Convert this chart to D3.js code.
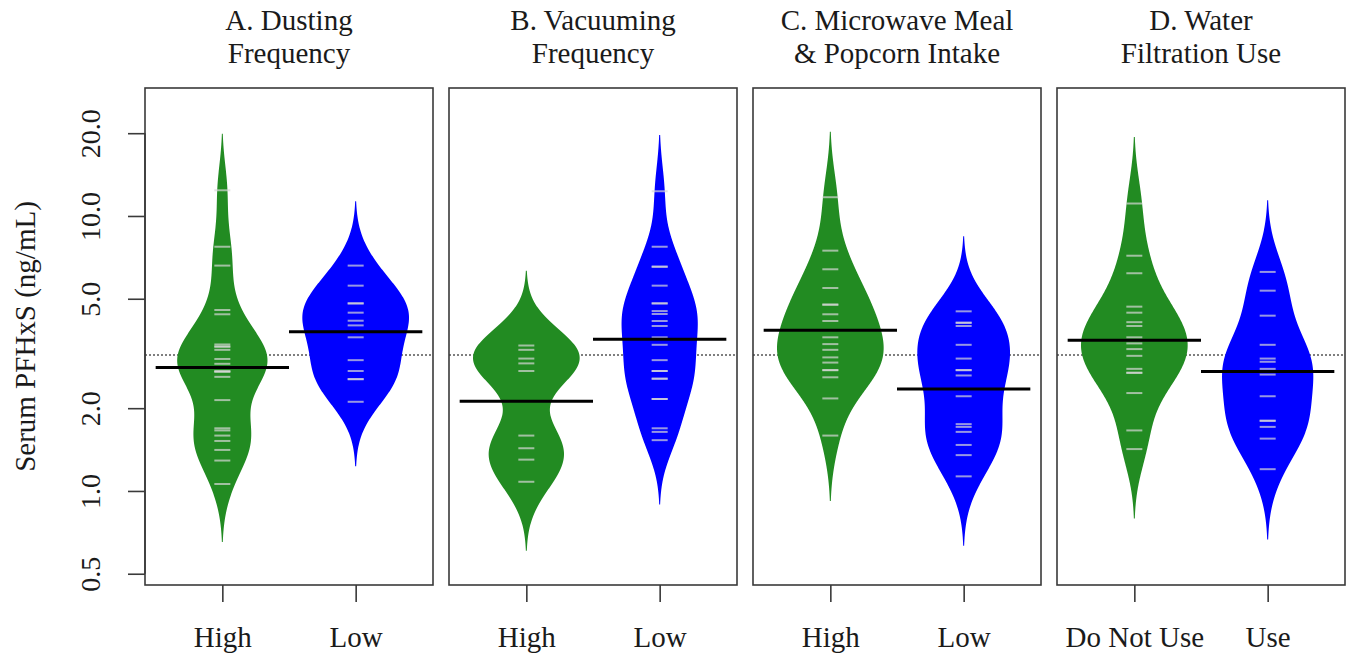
<!DOCTYPE html>
<html>
<head>
<meta charset="utf-8">
<script src="https://cdn.jsdelivr.net/npm/d3@7"></script>
<style>
  body { margin: 0; background: #fff; }
  text { font-family: "Liberation Serif", "Times New Roman", serif; fill: #1a1a1a; }
</style>
</head>
<body>
<script>
// ---- data (serum PFHxS, ng/mL) ----
const panelTitles = [
  ["A. Dusting", "Frequency"],
  ["B. Vacuuming", "Frequency"],
  ["C. Microwave Meal", "& Popcorn Intake"],
  ["D. Water", "Filtration Use"]
];
const groupLabels = [["High", "Low"], ["High", "Low"], ["High", "Low"], ["Do Not Use", "Use"]];
const yTicks = [0.5, 1, 2, 5, 10, 20];
const yTickLabels = ["0.5", "1.0", "2.0", "5.0", "10.0", "20.0"];

// one entry per subject; repeated values = brighter (overlapping) bean lines
const dustHigh = [12.4, 7.73, 6.60, 4.55, 4.39, 3.41, 3.35, 3.35, 3.26, 3.02, 2.90, 2.72, 2.72, 2.72, 2.60, 2.14, 1.69, 1.66, 1.59, 1.52, 1.41, 1.29, 1.06];
const dustLow  = [6.60, 5.58, 4.81, 4.81, 4.45, 4.16, 4.00, 3.62, 2.99, 2.73, 2.55, 2.55, 2.11];
const vacHigh  = [3.38, 3.26, 3.03, 2.91, 2.73, 1.59, 1.43, 1.30, 1.08];
const vacLow   = [12.3, 7.73, 6.54, 6.54, 5.58, 4.81, 4.81, 4.51, 4.40, 4.15, 3.98, 3.62, 3.40, 2.99, 2.73, 2.73, 2.56, 2.56, 2.16, 2.16, 1.69, 1.64, 1.53];
const micHigh  = [11.7, 7.48, 6.40, 5.47, 4.76, 4.76, 4.39, 4.15, 3.62, 3.42, 3.26, 3.06, 2.93, 2.75, 2.75, 2.59, 2.17, 1.59];
const micLow   = [4.50, 4.09, 4.09, 3.98, 3.40, 3.03, 2.75, 2.75, 2.63, 2.21, 1.75, 1.71, 1.64, 1.47, 1.35, 1.13];
const filtNo   = [11.1, 7.17, 6.19, 4.68, 4.45, 4.11, 3.98, 3.62, 3.44, 3.28, 3.10, 2.78, 2.69, 2.69, 2.27, 1.66, 1.42];
const filtUse  = [6.26, 5.35, 4.34, 3.40, 3.03, 2.95, 2.78, 2.65, 2.21, 1.80, 1.80, 1.71, 1.55, 1.20];

const beanData = [[dustHigh, dustLow], [vacHigh, vacLow], [micHigh, micLow], [filtNo, filtUse]];
const beanAverages = [[2.81, 3.79], [2.12, 3.56], [3.84, 2.35], [3.53, 2.72]];
const overallAverage = 3.12;
// kernel bandwidth per panel (shared by both beans), log10 units
const bandwidths = [0.096, 0.098, 0.106, 0.108];
const beanColors = ["#228B22", "#0000FF"];

// ---- layout ----
const W = 1352, H = 658;
const plotTop = 88, plotBottom = 585;
const panelW = 288, panelStep = 304, firstLeft = 145;

const svg = d3.select("body").append("svg").attr("width", W).attr("height", H);

const y = d3.scaleLog().domain([0.455, 29.2]).range([plotBottom, plotTop]);

function kde(vals, bw) {
  const logs = vals.map(v => Math.log10(v));
  const lo = d3.min(logs) - 3 * bw, hi = d3.max(logs) + 3 * bw;
  const n = logs.length;
  return d3.range(0, 301).map(i => {
    const t = lo + (hi - lo) * i / 300;
    let s = 0;
    logs.forEach(l => { const z = (t - l) / bw; s += Math.exp(-0.5 * z * z); });
    return {t: t, d: s / (n * bw * Math.sqrt(2 * Math.PI))};
  });
}

beanData.forEach((pair, p) => {
  const left = firstLeft + p * panelStep;
  const x = d3.scaleLinear().domain([0.42, 2.58]).range([left, left + panelW]);
  const g = svg.append("g");

  // overall average dotted line
  g.append("line")
    .attr("x1", left).attr("x2", left + panelW)
    .attr("y1", y(overallAverage)).attr("y2", y(overallAverage))
    .attr("stroke", "#555").attr("stroke-width", 1.5).attr("stroke-dasharray", "2,2");

  const dens = pair.map(vals => kde(vals, bandwidths[p]));
  const maxD = d3.max(dens, ds => d3.max(ds, d => d.d));
  const wScale = d3.scaleLinear().domain([0, maxD]).range([0, 0.4]);

  pair.forEach((vals, k) => {
    const at = k + 1;
    // drop the sub-pixel ends of the tails
    const pts = dens[k].filter(d => x(1 + wScale(d.d)) - x(1) >= 0.45);
    const area = d3.area()
      .y(d => y(Math.pow(10, d.t)))
      .x0(d => x(at - wScale(d.d)))
      .x1(d => x(at + wScale(d.d)));
    g.append("path").datum(pts)
      .attr("d", area)
      .attr("fill", beanColors[k]);

    g.selectAll(null).data(vals).enter().append("line")
      .attr("x1", x(at - 0.06)).attr("x2", x(at + 0.06))
      .attr("y1", d => y(d)).attr("y2", d => y(d))
      .attr("stroke", "rgb(215,215,215)").attr("stroke-opacity", 0.7).attr("stroke-width", 2);

    g.append("line")
      .attr("x1", x(at - 0.5)).attr("x2", x(at + 0.5))
      .attr("y1", y(beanAverages[p][k])).attr("y2", y(beanAverages[p][k]))
      .attr("stroke", "#000").attr("stroke-width", 3);
  });

  // box
  g.append("rect")
    .attr("x", left).attr("y", plotTop)
    .attr("width", panelW).attr("height", plotBottom - plotTop)
    .attr("fill", "none").attr("stroke", "#3a3a3a").attr("stroke-width", 1.6);

  // x axis
  const xAxis = d3.axisBottom(x).tickValues([1, 2])
    .tickFormat((d, i) => groupLabels[p][i]).tickSize(17);
  const ax = g.append("g").attr("transform", `translate(0,${plotBottom})`).call(xAxis);
  ax.select(".domain").remove();
  ax.selectAll(".tick line").attr("stroke", "#3a3a3a").attr("stroke-width", 1.6);
  ax.selectAll(".tick text").attr("y", 62).attr("dy", 0)
    .style("font-size", "29px").style("font-family", "'Liberation Serif', serif").attr("fill", "#1a1a1a");

  // title
  const cx = left + panelW / 2;
  panelTitles[p].forEach((line, li) => {
    g.append("text").attr("x", cx).attr("y", 30 + li * 33)
      .attr("text-anchor", "middle").style("font-size", "29px").text(line);
  });
});

// y axis on first panel
const yAxis = d3.axisLeft(y).tickValues(yTicks)
  .tickFormat((d, i) => yTickLabels[i]).tickSize(17);
const ay = svg.append("g").attr("transform", `translate(${firstLeft},0)`).call(yAxis);
ay.select(".domain").attr("d", `M0,${y(0.5)}V${y(20)}`).attr("stroke", "#3a3a3a").attr("stroke-width", 1.6);
ay.selectAll(".tick line").attr("stroke", "#3a3a3a").attr("stroke-width", 1.6);
ay.selectAll(".tick text")
  .attr("transform", "rotate(-90)")
  .attr("x", 0).attr("y", -45).attr("dy", 0)
  .attr("text-anchor", "middle")
  .style("font-size", "28px").style("font-family", "'Liberation Serif', serif").attr("fill", "#1a1a1a");

svg.append("text")
  .attr("transform", `translate(35,${(plotTop + plotBottom) / 2}) rotate(-90)`)
  .attr("text-anchor", "middle").style("font-size", "29px")
  .text("Serum PFHxS (ng/mL)");
</script>
</body>
</html>
